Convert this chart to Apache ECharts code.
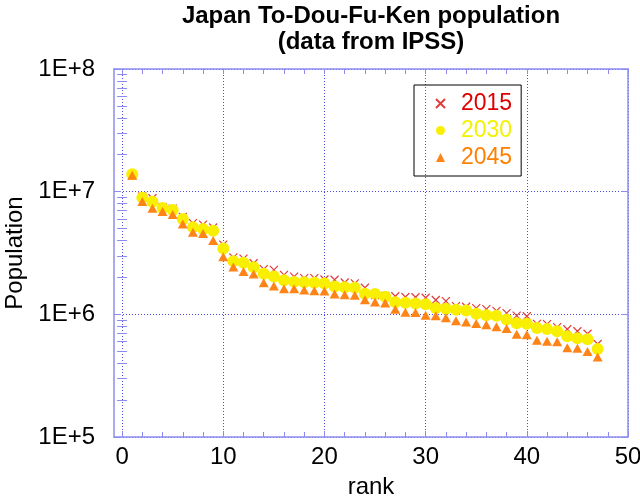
<!DOCTYPE html>
<html><head><meta charset="utf-8">
<script src="https://cdn.jsdelivr.net/npm/echarts@6/dist/echarts.min.js"></script>
<style>html,body{margin:0;padding:0;background:#fff}#c{width:640px;height:498px}</style>
</head><body><div id="c"></div>
<script>
// rank of To-Dou-Fu-Ken (each year sorted independently)
const ranks = [1,2,3,4,5,6,7,8,9,10,11,12,13,14,15,16,17,18,19,20,21,22,23,24,25,26,27,28,29,30,31,32,33,34,35,36,37,38,39,40,41,42,43,44,45,46,47];
const pop2015 = [13515000,9126000,8839000,7483000,7267000,6223000,5535000,5382000,5102000,3700000,2917000,2844000,2610000,2334000,2304000,2099000,2032000,1974000,1973000,1922000,1914000,1816000,1786000,1648000,1434000,1413000,1405000,1385000,1377000,1364000,1308000,1280000,1166000,1154000,1124000,1104000,1066000,1023000,976000,964000,835000,833000,787000,756000,728000,694000,573000];
const pop2030 = [13883000,8933000,8262000,7359000,7076000,5986000,5139000,4955000,4792000,3448000,2704000,2638000,2424000,2144000,2031000,1897000,1839000,1824000,1807000,1782000,1684000,1661000,1647000,1470000,1468000,1394000,1252000,1241000,1226000,1209000,1127000,1112000,1091000,1073000,1012000,984000,972000,909000,846000,839000,773000,758000,729000,664000,637000,627000,521000];
const pop2045 = [13607000,8313000,7335000,6899000,6525000,5463000,4674000,4554000,4005000,2943000,2430000,2236000,2137000,1809000,1699000,1620000,1615000,1577000,1559000,1553000,1468000,1442000,1431000,1315000,1263000,1239000,1099000,1040000,1036000,982000,974000,937000,885000,866000,841000,824000,793000,768000,688000,681000,614000,602000,599000,535000,529000,498000,449000];
const seriesNames = ['2015','2030','2045'];
const xMajorTicks = [0,10,20,30,40,50];
const xMinorTicks = [0,2,4,6,8,10,12,14,16,18,20,22,24,26,28,30,32,34,36,38,40,42,44,46,48,50];

const FONT = '"Liberation Sans", Arial, sans-serif';
const AX = '#8c8cf0';
const GRID = '#4a4ae6';
const yMinor = [];
for (const d of [5,6,7]) for (let k = 2; k <= 9; k++) yMinor.push(d + Math.log10(k));

const chart = echarts.init(document.getElementById('c'), null, {renderer: 'canvas'});
const pairs = arr => ranks.map((r, i) => [r, arr[i]]);

const baseX = {type: 'value', min: -0.8, max: 50, splitLine: {show: false}, axisLabel: {show: false}, axisLine: {show: false}};
const baseYMinor = {type: 'value', min: 5, max: 8, splitLine: {show: false}, axisLabel: {show: false}, axisLine: {show: false},
  axisTick: {show: true, inside: true, length: 5, customValues: yMinor, lineStyle: {color: AX}}};

chart.setOption({
  animation: false,
  backgroundColor: '#fff',
  title: {
    text: 'Japan To-Dou-Fu-Ken population\n(data from IPSS)',
    left: 366, top: -2, textAlign: 'center',
    textStyle: {fontFamily: FONT, fontSize: 24, fontWeight: 'bold', color: '#000', lineHeight: 26}
  },
  grid: {left: 114, right: 12, top: 69, bottom: 61, containLabel: false, outerBoundsMode: 'none'},
  legend: {
    left: 414, top: 85, orient: 'vertical', selectedMode: false,
    borderColor: '#000', borderWidth: 1, padding: [7, 9, 7, 21],
    itemGap: 4, itemWidth: 9, itemHeight: 9,
    textStyle: {fontFamily: FONT, fontSize: 23, lineHeight: 23, padding: [0, 0, 0, 11]},
    data: [
      {name: seriesNames[0], textStyle: {color: '#dd0000'}},
      {name: seriesNames[1], textStyle: {color: '#f2f200'}},
      {name: seriesNames[2], textStyle: {color: '#ff8000'}}
    ]
  },
  xAxis: [
    Object.assign({}, baseX, {
      position: 'bottom',
      axisLine: {show: true, onZero: false, lineStyle: {color: AX, width: 1.5}},
      axisTick: {show: true, inside: true, length: 6, customValues: xMajorTicks, lineStyle: {color: AX}},
      axisLabel: {show: true, customValues: xMajorTicks, fontFamily: FONT, fontSize: 24, color: '#000', margin: 8},
      splitLine: {show: true, lineStyle: {color: GRID, type: [1, 2], width: 1}},
      name: 'rank', nameLocation: 'middle', nameGap: 38,
      nameTextStyle: {fontFamily: FONT, fontSize: 24, color: '#000'}
    }),
    Object.assign({}, baseX, {position: 'bottom',
      axisTick: {show: true, inside: true, length: 5, customValues: xMinorTicks, lineStyle: {color: AX}}}),
    Object.assign({}, baseX, {position: 'top',
      axisLine: {show: true, onZero: false, lineStyle: {color: AX, width: 1.5}},
      axisTick: {show: true, inside: true, length: 5, customValues: xMinorTicks, lineStyle: {color: AX}}})
  ],
  yAxis: [
    {
      type: 'log', logBase: 10, min: 1e5, max: 1e8, position: 'left',
      axisLine: {show: true, onZero: false, lineStyle: {color: AX, width: 1.5}},
      axisTick: {show: true, inside: true, length: 7, lineStyle: {color: AX}},
      axisLabel: {fontFamily: FONT, fontSize: 24, color: '#000', margin: 19,
        formatter: v => '1E+' + Math.round(Math.log10(v))},
      splitLine: {show: true, lineStyle: {color: GRID, type: [1, 2], width: 1}},
      name: 'Population', nameLocation: 'middle', nameGap: 86, nameRotate: 90,
      nameTextStyle: {fontFamily: FONT, fontSize: 24, color: '#000'}
    },
    Object.assign({}, baseYMinor, {position: 'left'}),
    {
      type: 'log', logBase: 10, min: 1e5, max: 1e8, position: 'right',
      axisLine: {show: true, onZero: false, lineStyle: {color: AX, width: 1.5}},
      axisTick: {show: true, inside: true, length: 7, lineStyle: {color: AX}},
      axisLabel: {show: false}, splitLine: {show: false}
    },
    Object.assign({}, baseYMinor, {position: 'right'})
  ],
  series: [
    {
      name: seriesNames[0], type: 'scatter', data: pairs(pop2015),
      symbol: 'path://M0,0L10,10M10,0L0,10', symbolSize: 8,
      itemStyle: {color: 'rgba(0,0,0,0)', borderColor: '#e23c3c', borderWidth: 1.2, opacity: 1}
    },
    {
      name: seriesNames[1], type: 'scatter', data: pairs(pop2030),
      symbol: 'circle', symbolSize: 12,
      itemStyle: {color: '#f8f000', opacity: 1}
    },
    {
      name: seriesNames[2], type: 'scatter', data: pairs(pop2045),
      symbol: 'triangle', symbolSize: [10, 9],
      itemStyle: {color: '#ff8418', opacity: 1}
    }
  ]
});
</script>
</body></html>
